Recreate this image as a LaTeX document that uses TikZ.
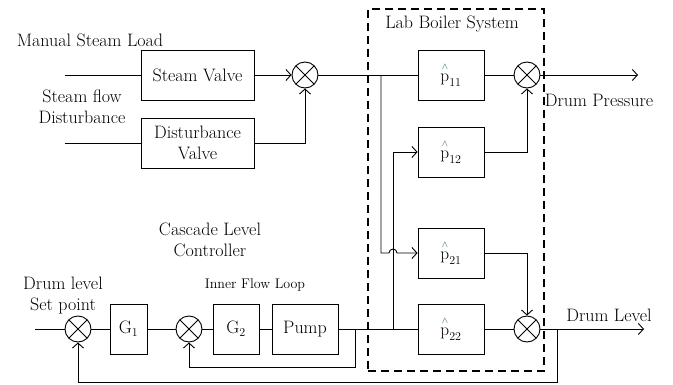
\documentclass[tikz,border=0pt]{standalone}
\usetikzlibrary{arrows.meta}
\definecolor{hatgreen}{RGB}{20,95,45}
\newcommand{\phat}[1]{$\stackrel{\raisebox{3pt}{\textcolor{hatgreen}{$\scriptscriptstyle\wedge$}}}{\mathrm{p}}_{#1}$}
\begin{document}
\begin{tikzpicture}[x=1pt,y=1pt,font=\fontsize{18}{21}\selectfont,line width=0.9pt,
  blk/.style={draw,minimum height=50pt,inner sep=0pt,align=center},
  sumx/.style={draw,circle,minimum size=26pt,inner sep=0pt,path picture={\draw (path picture bounding box.north west) -- (path picture bounding box.south east) (path picture bounding box.north east) -- (path picture bounding box.south west);}},
  flow/.style={-{Straight Barb[length=5pt,width=11pt]}},
  labbox/.style={draw,line width=1.8pt,dash pattern=on 8pt off 5pt,minimum width=176pt,minimum height=362pt,inner sep=0pt}]
  \useasboundingbox (0,0) rectangle (673,384);
  \node[labbox] (lab) at (456,194) {};
  \node (labT) at (452,360) {Lab Boiler System};
  \node (msl) at (90,344) {Manual Steam Load};
  \node[align=center] (sfd) at (82,277) {Steam flow\\Disturbance};
  \coordinate (inS) at (65,309); \coordinate (inD) at (65,241);
  \node[blk,minimum width=113pt] (SV) at (197.5,309) {Steam Valve};
  \node[blk,minimum width=113pt] (DV) at (197.5,241) {Disturbance\\Valve};
  \node[sumx] (S1) at (305,309) {};
  \draw (inS) -- (SV.west); \draw (inD) -- (DV.west);
  \draw[flow] (SV.east) -- (S1.west); \draw[flow] (DV.east) -| (S1.south);
  \node[blk,minimum width=66pt] (P11) at (451,309) {\phat{11}};
  \node[blk,minimum width=66pt] (P12) at (451,232) {\phat{12}};
  \node[blk,minimum width=66pt] (P21) at (451,131) {\phat{21}};
  \node[blk,minimum width=66pt] (P22) at (451,55) {\phat{22}};
  \node[sumx] (SP) at (527,309) {}; \node[sumx] (SL) at (527,55) {};
  \coordinate (b1) at (381,309); \coordinate (b2) at (393,55);
  \coordinate (outP) at (638,309); \coordinate (outL) at (644,55);
  \draw (S1.east) -- (P11.west);
  \draw[flow] (b1) |- ([xshift=-4pt]b2 |- P21.west) arc (180:0:4) -- (P21.west);
  \draw[flow] (b2) |- (P12.west);
  \draw (P11.east) -- (SP.west); \draw[flow] (P12.east) -| (SP.south);
  \draw[flow] (SP.east) -- (outP);
  \draw[flow] (P21.east) -| (SL.north); \draw (P22.east) -- (SL.west);
  \draw[flow] (SL.east) -- (outL);
  \node (dp) at (599,284) {Drum Pressure}; \node (dl) at (609,69) {Drum Level};
  \node[align=center] (clc) at (210,144) {Cascade Level\\Controller};
  \node[font=\fontsize{14}{16}\selectfont] (ifl) at (255,99) {Inner Flow Loop};
  \node[align=center] (dsp) at (63,88) {Drum level\\Set point};
  \coordinate (inR) at (35,55);
  \node[sumx] (SR) at (78,55) {};
  \node[blk,minimum width=37pt] (G1) at (128.5,55) {G$_1$};
  \node[sumx] (SI) at (189,55) {};
  \node[blk,minimum width=46pt] (G2) at (236,55) {G$_2$};
  \node[blk,minimum width=66pt] (PU) at (305,55) {Pump};
  \draw (inR) -- (SR.west); \draw (SR.east) -- (G1.west); \draw (G1.east) -- (SI.west);
  \draw (SI.east) -- (G2.west); \draw (G2.east) -- (PU.west); \draw (PU.east) -- (P22.west);
  \coordinate (tapI) at (355,55); \coordinate (fbI) at (355,17);
  \coordinate (tapO) at (557,55); \coordinate (fbO) at (557,2);
  \draw[flow] (tapI) -- (fbI) -| (SI.south);
  \draw[flow] (tapO) -- (fbO) -| (SR.south);
\end{tikzpicture}
\end{document}
